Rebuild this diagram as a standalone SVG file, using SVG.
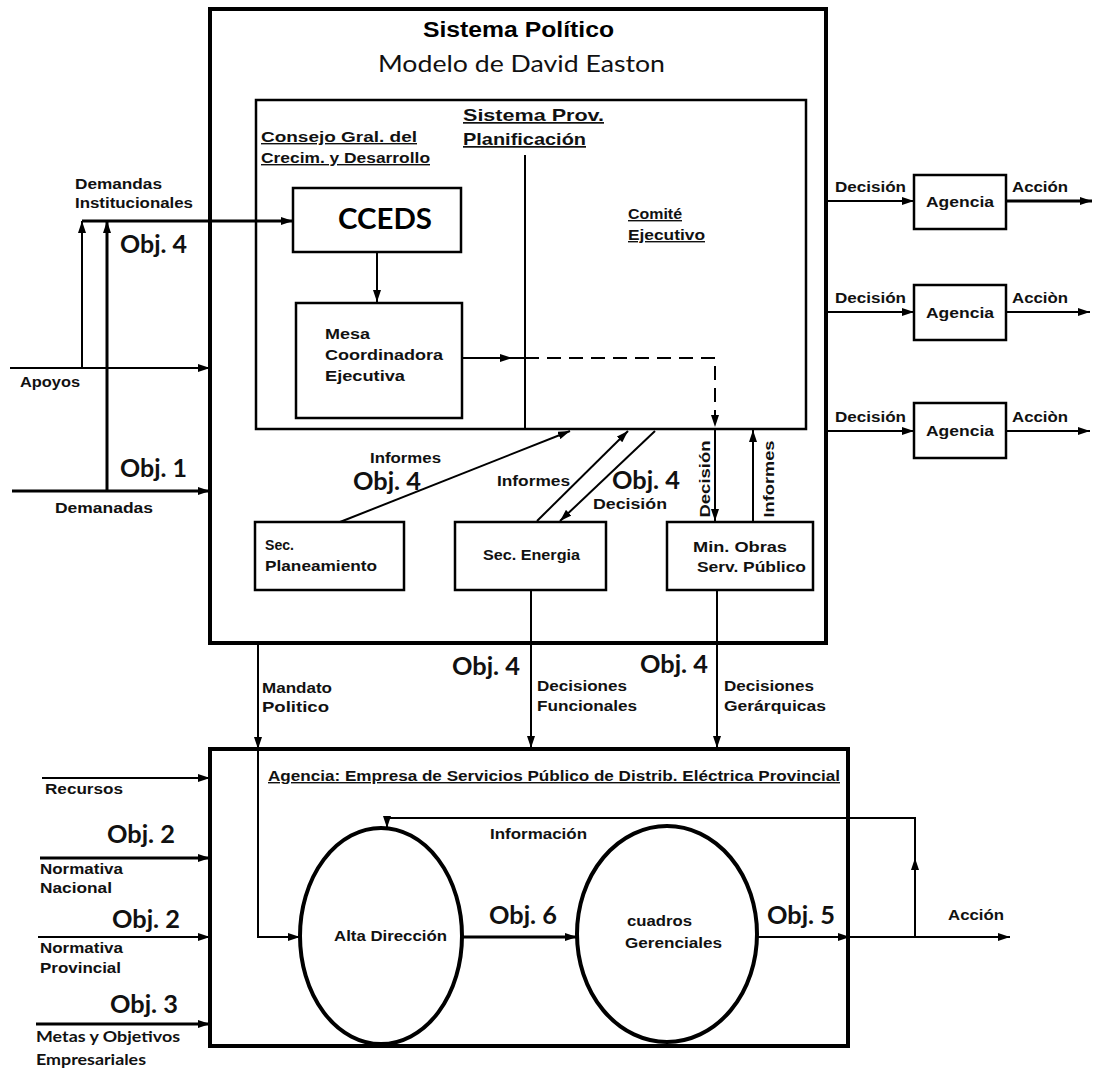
<svg xmlns="http://www.w3.org/2000/svg" width="1094" height="1071" viewBox="0 0 1094 1071">
<defs>
<marker id="ar" markerUnits="userSpaceOnUse" markerWidth="12" markerHeight="8" viewBox="0 0 12 8" refX="12" refY="4" orient="auto"><path d="M0,0 L12,4 L0,8 z" fill="#000"/></marker>
</defs>
<style>
.box{fill:#fff;stroke:#000}
.ln{fill:none;stroke:#000;stroke-width:2}
.th{stroke-width:3}
.a{font-family:"Liberation Sans",Arial,sans-serif;font-weight:bold;font-size:14px;fill:#111}
.u{text-decoration:underline}
.c{font-family:Lato,"Open Sans",sans-serif;font-weight:bold;font-size:24px;fill:#111}
</style>
<rect width="1094" height="1071" fill="#fff"/>

<g id="sistema-politico">
<rect class="box" x="210" y="9" width="616" height="634" stroke-width="4"/>
<text x="423" y="37" textLength="191" lengthAdjust="spacingAndGlyphs" style="font-family:'Liberation Sans',Arial,sans-serif;font-weight:bold;font-size:22px">Sistema Político</text>
<text x="378" y="72" textLength="287" lengthAdjust="spacingAndGlyphs" style="font-family:Lato,'Open Sans',sans-serif;font-size:24px;fill:#111">Modelo de David Easton</text>
</g>

<g id="sistema-prov">
<rect class="box" x="256" y="100" width="550" height="329" stroke-width="2.5"/>
<text class="a u" x="463" y="121" textLength="141" lengthAdjust="spacingAndGlyphs" style="font-size:17px">Sistema Prov.</text>
<text class="a u" x="463" y="145" textLength="123" lengthAdjust="spacingAndGlyphs" style="font-size:17px">Planificación</text>
<text class="a u" x="261" y="142" textLength="156" lengthAdjust="spacingAndGlyphs">Consejo Gral. del</text>
<text class="a u" x="261" y="163" textLength="169" lengthAdjust="spacingAndGlyphs">Crecim. y Desarrollo</text>
<text class="a u" x="628" y="219" textLength="54" lengthAdjust="spacingAndGlyphs">Comité</text>
<text class="a u" x="628" y="240" textLength="77" lengthAdjust="spacingAndGlyphs">Ejecutivo</text>
</g>

<g id="cceds">
<rect class="box" x="293" y="188" width="168" height="64" stroke-width="2.5"/>
<text x="338" y="229" textLength="94" lengthAdjust="spacingAndGlyphs" style="font-family:Lato,'Open Sans',sans-serif;font-weight:bold;font-size:28px">CCEDS</text>
</g>

<g id="mesa">
<rect class="box" x="296" y="303" width="166" height="115" stroke-width="2.5"/>
<text class="a" x="325" y="339" textLength="45" lengthAdjust="spacingAndGlyphs">Mesa</text>
<text class="a" x="325" y="360" textLength="118" lengthAdjust="spacingAndGlyphs">Coordinadora</text>
<text class="a" x="325" y="381" textLength="80" lengthAdjust="spacingAndGlyphs">Ejecutiva</text>
</g>

<g id="sec-planeamiento">
<rect class="box" x="255" y="522" width="149" height="68" stroke-width="2.5"/>
<text class="a" x="265" y="550" textLength="29" lengthAdjust="spacingAndGlyphs">Sec.</text>
<text class="a" x="265" y="571" textLength="112" lengthAdjust="spacingAndGlyphs">Planeamiento</text>
</g>

<g id="sec-energia">
<rect class="box" x="455" y="522" width="151" height="68" stroke-width="2.5"/>
<text class="a" x="483" y="560" textLength="97" lengthAdjust="spacingAndGlyphs">Sec. Energia</text>
</g>

<g id="min-obras">
<rect class="box" x="667" y="522" width="146" height="68" stroke-width="2.5"/>
<text class="a" x="693" y="552" textLength="94" lengthAdjust="spacingAndGlyphs">Min. Obras</text>
<text class="a" x="697" y="572" textLength="109" lengthAdjust="spacingAndGlyphs">Serv. Público</text>
</g>

<g id="agencia-1">
<rect class="box" x="914" y="175" width="92" height="54" stroke-width="2.5"/>
<text class="a" x="926" y="207" textLength="68" lengthAdjust="spacingAndGlyphs">Agencia</text>
</g>
<g id="agencia-2">
<rect class="box" x="914" y="285" width="92" height="55" stroke-width="2.5"/>
<text class="a" x="926" y="318" textLength="68" lengthAdjust="spacingAndGlyphs">Agencia</text>
</g>
<g id="agencia-3">
<rect class="box" x="914" y="403" width="92" height="55" stroke-width="2.5"/>
<text class="a" x="926" y="436" textLength="68" lengthAdjust="spacingAndGlyphs">Agencia</text>
</g>

<g id="agencia-empresa">
<rect class="box" x="210" y="749" width="638" height="297" stroke-width="4"/>
<text class="a u" x="268" y="781" textLength="572" lengthAdjust="spacingAndGlyphs">Agencia: Empresa de Servicios Público de Distrib. Eléctrica Provincial</text>
</g>

<g id="alta-direccion">
<ellipse class="box" cx="381" cy="936" rx="81" ry="108" stroke-width="4"/>
<text class="a" x="334" y="941" textLength="113" lengthAdjust="spacingAndGlyphs">Alta Dirección</text>
</g>

<g id="cuadros-gerenciales">
<ellipse class="box" cx="667" cy="934" rx="90" ry="108" stroke-width="4"/>
<text class="a" x="627" y="926" textLength="65" lengthAdjust="spacingAndGlyphs">cuadros</text>
<text class="a" x="625" y="948" textLength="97" lengthAdjust="spacingAndGlyphs">Gerenciales</text>
</g>

<g id="connectors">
<path class="ln th" d="M82,221 L293,221" marker-end="url(#ar)"/>
<path class="ln" d="M82,368 L82,221" marker-end="url(#ar)"/>
<path class="ln th" d="M107,491 L107,221" marker-end="url(#ar)"/>
<path class="ln" d="M10,368 L210,368" marker-end="url(#ar)"/>
<path class="ln th" d="M12,491 L210,491" marker-end="url(#ar)"/>
<path class="ln" d="M525,155 L525,429"/>
<path class="ln" d="M377,252 L377,302" marker-end="url(#ar)"/>
<path class="ln" d="M462,358 L512,358" marker-end="url(#ar)"/>
<path class="ln" d="M505,358 L525,358"/>
<path class="ln" d="M525,358 L715,358 L715,427" stroke-dasharray="14,8" marker-end="url(#ar)"/>
<path class="ln" d="M715,429 L715,521" marker-end="url(#ar)"/>
<path class="ln" d="M753,521 L753,430" marker-end="url(#ar)"/>
<path class="ln" d="M340,522 L570,431" marker-end="url(#ar)"/>
<path class="ln" d="M537,521 L628,431" marker-end="url(#ar)"/>
<path class="ln" d="M655,431 L560,521" marker-end="url(#ar)"/>
<path class="ln" d="M826,201 L914,201" marker-end="url(#ar)"/>
<path class="ln th" d="M1006,201 L1092,201" marker-end="url(#ar)"/>
<path class="ln" d="M826,312 L914,312" marker-end="url(#ar)"/>
<path class="ln" d="M1006,312 L1090,312" marker-end="url(#ar)"/>
<path class="ln" d="M826,431 L914,431" marker-end="url(#ar)"/>
<path class="ln" d="M1006,431 L1090,431" marker-end="url(#ar)"/>
<path class="ln" d="M258,643 L258,749" marker-end="url(#ar)"/>
<path class="ln" d="M258,749 L258,937 L300,937" marker-end="url(#ar)"/>
<path class="ln" d="M531,590 L531,748" marker-end="url(#ar)"/>
<path class="ln" d="M717,590 L717,748" marker-end="url(#ar)"/>
<path class="ln" d="M42,778 L210,778" marker-end="url(#ar)"/>
<path class="ln th" d="M40,858 L210,858" marker-end="url(#ar)"/>
<path class="ln" d="M38,937 L210,937" stroke-width="2.5" marker-end="url(#ar)"/>
<path class="ln th" d="M36,1024 L210,1024" marker-end="url(#ar)"/>
<path class="ln th" d="M462,937 L577,937" marker-end="url(#ar)"/>
<path class="ln" d="M757,937 L850,937" marker-end="url(#ar)"/>
<path class="ln" d="M848,937 L1010,937" marker-end="url(#ar)"/>
<path class="ln" d="M915,937 L915,858" marker-end="url(#ar)"/>
<path class="ln" d="M915,862 L915,818 L387,818 L387,828" marker-end="url(#ar)"/>
</g>

<g id="labels">
<text class="a" x="75" y="189" textLength="87" lengthAdjust="spacingAndGlyphs">Demandas</text>
<text class="a" x="75" y="208" textLength="118" lengthAdjust="spacingAndGlyphs">Institucionales</text>
<text class="c" x="120" y="253" textLength="67" lengthAdjust="spacingAndGlyphs">Obj. 4</text>
<text class="a" x="20" y="387" textLength="60" lengthAdjust="spacingAndGlyphs">Apoyos</text>
<text class="c" x="120" y="477" textLength="67" lengthAdjust="spacingAndGlyphs">Obj. 1</text>
<text class="a" x="55" y="513" textLength="98" lengthAdjust="spacingAndGlyphs">Demanadas</text>
<text class="a" x="835" y="192" textLength="71" lengthAdjust="spacingAndGlyphs">Decisión</text>
<text class="a" x="1012" y="192" textLength="56" lengthAdjust="spacingAndGlyphs">Acción</text>
<text class="a" x="835" y="303" textLength="71" lengthAdjust="spacingAndGlyphs">Decisión</text>
<text class="a" x="1012" y="303" textLength="56" lengthAdjust="spacingAndGlyphs">Acciòn</text>
<text class="a" x="835" y="422" textLength="71" lengthAdjust="spacingAndGlyphs">Decisión</text>
<text class="a" x="1012" y="422" textLength="56" lengthAdjust="spacingAndGlyphs">Acciòn</text>
<text class="a" x="370" y="463" textLength="71" lengthAdjust="spacingAndGlyphs">Informes</text>
<text class="c" x="353" y="490" textLength="68" lengthAdjust="spacingAndGlyphs">Obj. 4</text>
<text class="a" x="497" y="486" textLength="73" lengthAdjust="spacingAndGlyphs">Informes</text>
<text class="c" x="612" y="489" textLength="68" lengthAdjust="spacingAndGlyphs">Obj. 4</text>
<text class="a" x="593" y="509" textLength="74" lengthAdjust="spacingAndGlyphs">Decisión</text>
<text class="a" x="0" y="0" text-anchor="middle" textLength="77" lengthAdjust="spacingAndGlyphs" transform="translate(710,479) rotate(-90)">Decisión</text>
<text class="a" x="0" y="0" text-anchor="middle" textLength="77" lengthAdjust="spacingAndGlyphs" transform="translate(774,479) rotate(-90)">Informes</text>
<text class="a" x="262" y="693" textLength="70" lengthAdjust="spacingAndGlyphs">Mandato</text>
<text class="a" x="262" y="712" textLength="67" lengthAdjust="spacingAndGlyphs">Politico</text>
<text class="c" x="452" y="675" textLength="68" lengthAdjust="spacingAndGlyphs">Obj. 4</text>
<text class="a" x="537" y="691" textLength="90" lengthAdjust="spacingAndGlyphs">Decisiones</text>
<text class="a" x="537" y="711" textLength="100" lengthAdjust="spacingAndGlyphs">Funcionales</text>
<text class="c" x="640" y="673" textLength="68" lengthAdjust="spacingAndGlyphs">Obj. 4</text>
<text class="a" x="724" y="691" textLength="90" lengthAdjust="spacingAndGlyphs">Decisiones</text>
<text class="a" x="724" y="711" textLength="102" lengthAdjust="spacingAndGlyphs">Gerárquicas</text>
<text class="a" x="45" y="794" textLength="78" lengthAdjust="spacingAndGlyphs">Recursos</text>
<text class="c" x="107" y="843" textLength="68" lengthAdjust="spacingAndGlyphs">Obj. 2</text>
<text class="a" x="40" y="874" textLength="83" lengthAdjust="spacingAndGlyphs">Normativa</text>
<text class="a" x="40" y="893" textLength="72" lengthAdjust="spacingAndGlyphs">Nacional</text>
<text class="c" x="112" y="928" textLength="68" lengthAdjust="spacingAndGlyphs">Obj. 2</text>
<text class="a" x="40" y="953" textLength="83" lengthAdjust="spacingAndGlyphs">Normativa</text>
<text class="a" x="40" y="973" textLength="81" lengthAdjust="spacingAndGlyphs">Provincial</text>
<text class="c" x="110" y="1013" textLength="68" lengthAdjust="spacingAndGlyphs">Obj. 3</text>
<text class="c" x="36" y="1042" textLength="144" lengthAdjust="spacingAndGlyphs" style="font-size:16px">Metas y Objetivos</text>
<text class="c" x="36" y="1065" textLength="110" lengthAdjust="spacingAndGlyphs" style="font-size:16px">Empresariales</text>
<text class="a" x="490" y="839" textLength="97" lengthAdjust="spacingAndGlyphs">Información</text>
<text class="c" x="489" y="924" textLength="68" lengthAdjust="spacingAndGlyphs">Obj. 6</text>
<text class="c" x="767" y="924" textLength="68" lengthAdjust="spacingAndGlyphs">Obj. 5</text>
<text class="a" x="948" y="920" textLength="56" lengthAdjust="spacingAndGlyphs">Acción</text>
</g>
</svg>
